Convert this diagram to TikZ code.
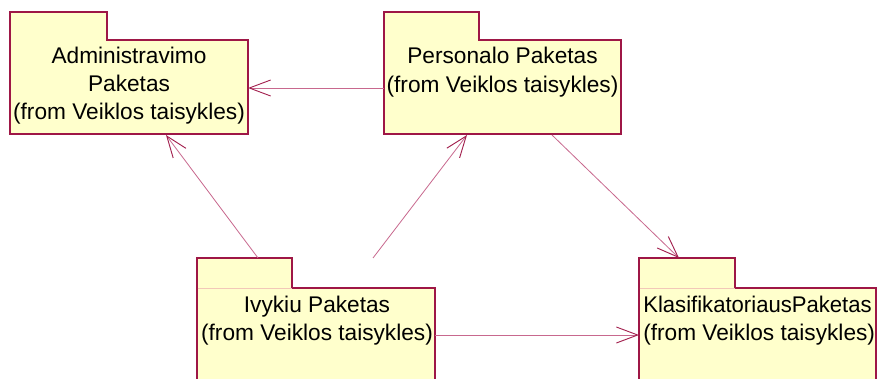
\documentclass[tikz,border=0pt]{standalone}
\usepackage{fontspec}
\setmainfont{Liberation Sans}
\usetikzlibrary{arrows.meta}
\definecolor{pkgfill}{HTML}{FFFFCC}
\definecolor{pkgline}{HTML}{9E1746}
\definecolor{tabseam}{HTML}{F2C8B8}
\definecolor{deplink}{HTML}{C8688E}
\definecolor{deptip}{HTML}{A3214F}
\tikzset{
  pkgshape/.style={draw=pkgline, fill=pkgfill, line width=0.8pt, line join=miter},
  seam/.style={draw=tabseam, line width=0.7pt},
  % anchored on the baseline of the last line
  pkgtext/.style={font=\fontsize{17}{21}\selectfont, align=center, anchor=base, inner sep=0pt},
  dependency/.style={draw=deplink, line width=0.6pt,
    -{Straight Barb[length=16pt, width=12pt, color=deptip, line width=0.7pt]}},
}
% package outline: tab on the upper left, body below it
\newcommand{\umlpackage}[6]{% x1, y1 (tab top), tab right, body top, x2, y2
  \path[pkgshape] (#1,#2) -- (#3,#2) -- (#3,#4) -- (#5,#4) -- (#5,#6) -- (#1,#6) -- cycle;
}
\begin{document}
\begin{tikzpicture}[x=0.75pt, y=-0.75pt]
  \clip (0,0) rectangle (877,378);
  \fill[white] (0,0) rectangle (877,378);

  % packages
  \umlpackage{10}{12}{107}{40}{248}{134}
  \umlpackage{384}{12}{479}{40}{621}{134}
  \umlpackage{197}{258}{292}{288}{435}{400}
  \umlpackage{639}{258}{735}{288}{876}{400}
  % faint seam under the tabs of the lower packages
  \draw[seam] (197.6,288) -- (291.6,288);
  \draw[seam] (639.6,288) -- (734.6,288);

  % package names
  \node[pkgtext] (admtext) at (129,119) {Administravimo\\Paketas\\(from Veiklos taisykles)};
  \node[pkgtext] (pertext) at (502.5,92) {Personalo Paketas\\(from Veiklos taisykles)};
  \node[pkgtext] (ivytext) at (317,340) {Ivykiu Paketas\\(from Veiklos taisykles)};
  \node[pkgtext, anchor=base west, align=left] (klatext) at (643,340)
    {\scalebox{0.975}[1]{KlasifikatoriausPaketas}\\(from Veiklos taisykles)};

  % attachment points on the package outlines
  \coordinate (perW)  at (384,88);
  \coordinate (admE)  at (248,88);
  \coordinate (admS)  at (166,135);
  \coordinate (perS1) at (467,135);
  \coordinate (perS2) at (552,135);
  \coordinate (ivyN1) at (258,258);
  \coordinate (ivyN2) at (373,258);
  \coordinate (ivyE)  at (435,335);
  \coordinate (klaW)  at (639,335);
  \coordinate (klaN)  at (679,258);

  % dependencies
  \draw[dependency] (perW) -- (admE);
  \draw[dependency] (ivyN1) -- (admS);
  \draw[dependency] (ivyN2) -- (perS1);
  \draw[dependency] (perS2) -- (klaN);
  \draw[dependency] (ivyE) -- (klaW);
\end{tikzpicture}
\end{document}
